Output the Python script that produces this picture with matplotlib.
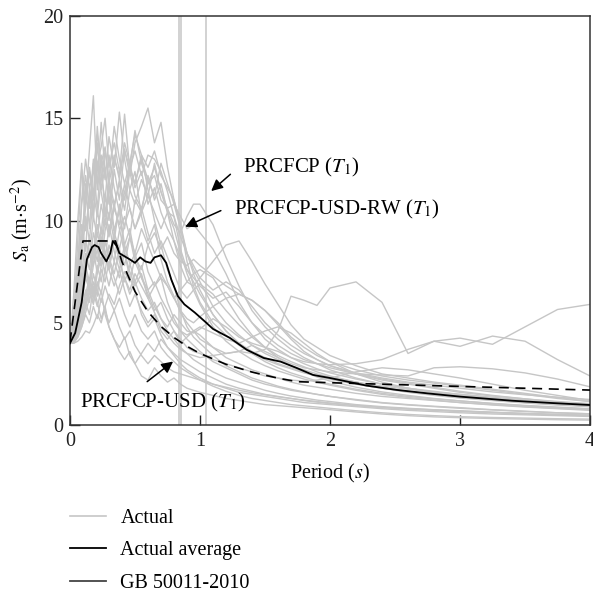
import numpy as np
import matplotlib
matplotlib.use("Agg")
import matplotlib.pyplot as plt
from matplotlib.lines import Line2D

plt.rcParams['font.family'] = ['Liberation Serif', 'DejaVu Serif']
plt.rcParams['mathtext.fontset'] = 'stix'

# period grid shared by the recorded spectra (s)
periods = [0, 0.03, 0.06, 0.09, 0.12, 0.15, 0.18, 0.21, 0.24, 0.27, 0.30, 0.34, 0.38, 0.42,
           0.46, 0.50, 0.55, 0.60, 0.65, 0.70, 0.75, 0.80, 0.85, 0.90, 0.95, 1.0, 1.1, 1.2,
           1.3, 1.4, 1.5, 1.6, 1.7, 1.8, 1.9, 2.0, 2.2, 2.4, 2.6, 2.8, 3.0, 3.25, 3.5, 3.75, 4.0]

# recorded ground motion spectra, Sa (m/s^2)
rec_01 = [4.0, 5.5, 9.0, 12.5, 10.8, 13.5, 16.1, 11.5, 13.0, 10.2, 11.8, 9.5, 10.6, 8.8, 9.6,
          8.2, 8.9, 7.5, 6.8, 7.2, 6.0, 5.2, 4.6, 4.2, 3.9, 3.6, 3.1, 2.8, 2.5, 2.2, 2.0, 1.85,
          1.7, 1.6, 1.5, 1.4, 1.25, 1.1, 1.0, 0.92, 0.85, 0.75, 0.68, 0.6, 0.55]
rec_02 = [4.0, 4.6, 6.2, 8.5, 11.8, 9.6, 12.8, 10.5, 13.2, 12.0, 14.1, 12.6, 15.3, 13.0, 11.5,
          12.4, 10.2, 9.0, 9.8, 8.1, 7.0, 6.3, 5.5, 5.0, 4.6, 4.4, 3.8, 3.3, 3.0, 2.7, 2.5, 2.3,
          2.1, 1.95, 1.85, 1.75, 1.55, 1.4, 1.3, 1.2, 1.1, 1.0, 0.9, 0.82, 0.75]
rec_03 = [4.0, 4.3, 5.0, 6.5, 7.8, 9.0, 8.2, 10.5, 9.4, 11.2, 10.0, 12.5, 11.0, 13.5, 12.2,
          13.8, 14.6, 15.5, 13.8, 14.8, 12.6, 11.0, 9.8, 8.4, 7.4, 6.6, 5.4, 4.6, 4.0, 3.6, 3.3,
          3.0, 2.8, 2.6, 2.4, 2.25, 2.0, 1.8, 1.65, 1.5, 1.4, 1.28, 1.18, 1.1, 1.0]
rec_04 = [4.0, 6.5, 10.0, 12.8, 9.5, 11.2, 10.4, 13.8, 11.5, 12.6, 10.8, 13.0, 12.2, 15.2, 12.5,
          11.8, 13.2, 11.5, 10.0, 8.8, 7.6, 6.8, 5.6, 4.8, 4.3, 4.0, 3.4, 2.9, 2.6, 2.3, 2.1,
          1.9, 1.75, 1.62, 1.5, 1.4, 1.22, 1.08, 0.98, 0.9, 0.82, 0.74, 0.66, 0.6, 0.55]
rec_05 = [4.0, 4.2, 4.8, 6.0, 7.5, 6.8, 8.2, 9.0, 7.8, 9.5, 10.4, 9.0, 10.8, 9.6, 11.5, 10.8,
          12.0, 11.2, 12.8, 11.4, 10.6, 9.8, 9.4, 10.2, 10.8, 10.8, 9.8, 8.2, 6.8, 5.6, 4.8,
          4.2, 3.7, 3.3, 3.0, 2.7, 2.3, 2.0, 1.8, 1.6, 1.45, 1.3, 1.15, 1.05, 0.95]
rec_06 = [4.0, 4.1, 4.5, 5.2, 6.0, 6.8, 6.2, 7.4, 8.2, 7.5, 8.8, 8.0, 9.5, 10.2, 9.2, 11.0,
          10.4, 12.2, 11.0, 11.8, 10.4, 9.0, 7.8, 7.0, 6.8, 7.2, 8.0, 8.8, 9.0, 8.0, 6.9, 5.9,
          4.9, 4.2, 3.8, 3.4, 2.9, 2.5, 2.3, 2.1, 1.95, 1.75, 1.55, 1.35, 1.15]
rec_07 = [4.0, 4.1, 4.4, 5.0, 5.8, 6.5, 5.9, 7.0, 6.4, 7.6, 6.8, 8.0, 7.2, 8.4, 7.5, 6.8, 7.4,
          6.2, 5.5, 4.8, 4.4, 4.0, 3.7, 3.5, 3.4, 3.3, 3.4, 3.5, 3.6, 3.5, 3.7, 4.6, 6.3, 6.1,
          5.85, 6.7, 7.0, 6.0, 3.5, 4.1, 4.25, 3.95, 4.8, 5.65, 5.9]
rec_08 = [4.0, 4.2, 5.0, 6.2, 7.5, 6.8, 8.6, 7.4, 9.2, 8.0, 9.8, 8.5, 7.6, 8.8, 7.9, 7.0, 7.8,
          6.6, 5.8, 5.2, 4.8, 5.4, 5.0, 4.6, 4.5, 4.7, 5.2, 4.8, 4.3, 4.0, 3.8, 3.6, 3.3, 3.1,
          3.0, 2.95, 3.0, 3.2, 3.7, 4.1, 3.85, 4.35, 4.1, 3.2, 2.4]
rec_09 = [4.0, 4.0, 4.3, 4.8, 5.5, 6.2, 7.0, 6.3, 7.8, 8.5, 7.6, 9.0, 8.2, 7.0, 7.8, 8.4, 7.2,
          6.4, 5.6, 6.0, 5.2, 4.6, 4.0, 4.3, 4.6, 4.2, 3.8, 3.5, 3.6, 3.9, 3.6, 3.3, 3.0, 2.8,
          2.7, 2.6, 2.5, 2.45, 2.4, 2.8, 2.85, 2.75, 2.55, 2.25, 1.87]
rec_10 = [4.0, 4.1, 4.4, 5.2, 6.0, 5.4, 6.8, 6.0, 5.2, 5.8, 4.8, 4.2, 3.8, 4.3, 3.4, 3.0, 2.4,
          2.2, 2.8, 2.4, 2.1, 2.3, 2.0, 1.8, 1.7, 1.6, 1.45, 1.3, 1.2, 1.1, 1.0, 0.95, 0.9,
          0.85, 0.8, 0.75, 0.64, 0.54, 0.46, 0.4, 0.36, 0.32, 0.29, 0.26, 0.24]
rec_11 = [4.0, 4.1, 4.6, 5.5, 6.4, 7.2, 6.5, 5.8, 6.6, 5.4, 4.8, 4.2, 3.6, 3.2, 3.6, 3.0, 3.5,
          4.0, 3.6, 4.2, 3.8, 3.4, 3.0, 2.7, 2.5, 2.3, 2.0, 1.8, 1.6, 1.5, 1.4, 1.3, 1.2, 1.1,
          1.05, 1.0, 0.9, 0.8, 0.72, 0.66, 0.6, 0.54, 0.5, 0.46, 0.42]
rec_12 = [4.0, 4.8, 7.2, 9.8, 8.5, 11.6, 10.0, 12.8, 11.4, 10.2, 12.0, 10.8, 11.8, 10.5, 12.4,
          11.2, 10.6, 11.8, 12.2, 11.0, 10.6, 10.8, 9.6, 8.4, 7.6, 7.0, 5.8, 5.0, 4.4, 3.9, 3.5,
          3.2, 2.9, 2.7, 2.5, 2.35, 2.1, 1.9, 1.75, 1.6, 1.5, 1.35, 1.2, 1.05, 0.9]
rec_13 = [4.0, 4.2, 5.0, 6.4, 7.8, 7.0, 8.8, 8.0, 9.6, 8.4, 7.6, 9.2, 8.0, 7.2, 6.4, 7.0, 6.2,
          5.6, 6.0, 5.2, 4.6, 4.2, 3.8, 3.5, 3.2, 3.0, 2.6, 2.3, 2.1, 1.9, 1.7, 1.55, 1.42,
          1.32, 1.22, 1.15, 1.0, 0.9, 0.82, 0.75, 0.7, 0.63, 0.57, 0.52, 0.48]
rec_14 = [4.0, 4.0, 4.1, 4.3, 4.6, 4.5, 4.9, 5.4, 5.0, 5.8, 6.4, 5.9, 6.8, 7.5, 7.0, 8.2, 7.6,
          8.8, 9.4, 8.6, 9.2, 8.4, 8.0, 7.8, 8.1, 7.8, 7.3, 6.8, 6.4, 6.1, 5.6, 5.0, 4.3, 3.8,
          3.4, 3.1, 2.7, 2.4, 2.2, 2.05, 1.9, 1.7, 1.5, 1.3, 1.15]
rec_15 = [4.0, 5.2, 8.0, 10.8, 12.2, 10.6, 13.0, 11.8, 14.8, 12.4, 11.0, 9.4, 10.5, 8.4, 7.2,
          6.6, 5.4, 4.8, 5.2, 4.4, 3.8, 3.5, 3.2, 3.0, 2.8, 2.6, 2.3, 2.0, 1.8, 1.65, 1.5, 1.4,
          1.3, 1.2, 1.12, 1.05, 0.95, 0.86, 0.8, 0.74, 0.68, 0.62, 0.56, 0.52, 0.48]
rec_16 = [4.0, 4.3, 5.4, 7.0, 8.4, 7.6, 9.4, 8.6, 7.8, 9.0, 8.2, 7.4, 8.6, 7.8, 9.2, 8.4, 9.6,
          8.8, 8.0, 7.2, 6.8, 6.2, 5.6, 5.2, 5.0, 5.3, 5.8, 6.2, 6.4, 6.1, 5.6, 4.9, 4.2, 3.6,
          3.2, 2.9, 2.5, 2.2, 2.0, 1.8, 1.6, 1.42, 1.28, 1.15, 1.05]
rec_17 = [4.0, 4.2, 4.7, 5.6, 6.6, 6.0, 7.4, 6.6, 6.0, 6.8, 6.2, 5.6, 6.2, 5.4, 4.8, 5.4, 4.6,
          4.2, 4.6, 3.8, 3.4, 3.1, 2.8, 2.6, 2.4, 2.2, 1.9, 1.65, 1.45, 1.3, 1.2, 1.1, 1.0,
          0.94, 0.88, 0.82, 0.7, 0.6, 0.52, 0.46, 0.41, 0.37, 0.34, 0.31, 0.29]
rec_18 = [4.0, 4.4, 5.8, 7.4, 9.0, 8.2, 10.2, 9.2, 10.8, 9.8, 11.6, 10.6, 12.0, 11.0, 12.6,
          13.4, 12.2, 13.2, 13.0, 12.4, 11.4, 10.2, 8.6, 7.6, 7.2, 6.8, 6.2, 6.5, 5.8, 5.0, 4.4,
          3.9, 3.5, 3.2, 3.0, 2.8, 2.5, 2.25, 2.05, 1.85, 1.65, 1.45, 1.28, 1.12, 1.0]
rec_19 = [4.0, 4.1, 4.5, 5.3, 6.2, 7.0, 6.4, 7.8, 7.0, 8.4, 7.6, 6.8, 7.6, 6.6, 5.8, 6.4, 5.6,
          5.0, 5.4, 4.6, 4.2, 4.6, 4.2, 3.8, 3.6, 3.5, 3.2, 3.0, 2.8, 2.6, 2.4, 2.3, 2.2, 2.15,
          2.2, 2.3, 2.6, 2.8, 2.7, 2.5, 2.3, 2.0, 1.7, 1.45, 1.2]
rec_20 = [4.0, 4.3, 5.2, 6.8, 8.0, 9.2, 8.2, 9.8, 8.8, 10.6, 9.4, 10.8, 9.6, 8.4, 9.2, 8.0, 7.2,
          6.6, 7.0, 6.2, 5.6, 5.0, 4.6, 4.4, 4.6, 4.8, 4.5, 4.2, 4.0, 4.3, 4.6, 4.8, 4.5, 4.0,
          3.5, 3.1, 2.5, 2.1, 1.8, 1.6, 1.45, 1.3, 1.18, 1.08, 1.0]
rec_21 = [4.0, 4.5, 6.0, 8.0, 10.2, 9.0, 11.4, 10.2, 12.0, 13.4, 11.8, 13.2, 12.0, 13.8, 12.8,
          14.2, 13.2, 12.6, 13.4, 12.2, 11.6, 11.0, 9.8, 8.0, 6.8, 6.0, 5.0, 4.4, 3.9, 3.5, 3.2,
          2.95, 2.75, 2.55, 2.4, 2.25, 2.0, 1.8, 1.6, 1.45, 1.32, 1.2, 1.08, 0.98, 0.9]
rec_22 = [4.0, 4.1, 4.3, 4.8, 5.4, 5.0, 5.8, 5.2, 6.2, 5.6, 5.0, 5.6, 4.8, 4.2, 4.6, 3.9, 3.4,
          3.0, 3.4, 3.1, 2.8, 2.6, 2.5, 2.4, 2.3, 2.2, 2.0, 1.85, 1.7, 1.58, 1.48, 1.38, 1.3,
          1.22, 1.15, 1.08, 0.96, 0.86, 0.78, 0.72, 0.66, 0.6, 0.55, 0.5, 0.46]
rec_23 = [4.0, 5.0, 7.5, 11.0, 13.0, 11.6, 12.4, 14.2, 12.8, 13.6, 12.0, 14.6, 13.0, 11.8, 12.8,
          11.6, 12.4, 10.8, 11.6, 10.4, 9.6, 9.0, 8.2, 7.6, 7.0, 6.4, 5.4, 4.6, 4.0, 3.5, 3.1,
          2.8, 2.55, 2.35, 2.15, 2.0, 1.75, 1.55, 1.4, 1.28, 1.18, 1.06, 0.96, 0.88, 0.8]
rec_24 = [4.0, 4.8, 6.8, 9.2, 11.0, 12.6, 11.2, 14.6, 12.2, 11.0, 13.2, 11.6, 10.4, 11.8, 10.6,
          9.6, 10.6, 9.4, 8.4, 9.0, 8.2, 7.4, 6.6, 6.2, 6.6, 6.9, 6.4, 5.6, 4.9, 4.3, 3.8, 3.4,
          3.1, 2.85, 2.6, 2.4, 2.1, 1.85, 1.65, 1.5, 1.36, 1.22, 1.1, 1.0, 0.92]
rec_25 = [4.0, 4.3, 5.0, 6.2, 7.4, 8.6, 7.8, 9.4, 8.6, 10.0, 9.2, 10.6, 9.8, 11.4, 12.6, 11.8,
          13.0, 12.0, 11.2, 12.8, 11.8, 10.8, 10.2, 9.6, 9.8, 9.4, 8.6, 7.4, 6.0, 5.0, 4.2, 3.7,
          3.3, 3.0, 2.75, 2.55, 2.25, 2.0, 1.8, 1.65, 1.5, 1.35, 1.22, 1.1, 1.0]
rec_26 = [4.0, 4.1, 4.4, 5.0, 5.8, 6.6, 6.0, 6.8, 7.6, 7.0, 8.0, 7.2, 6.4, 7.2, 6.6, 7.4, 6.8,
          6.2, 6.8, 7.4, 6.8, 6.2, 6.6, 7.0, 7.4, 7.6, 7.2, 6.2, 5.2, 4.4, 3.8, 3.3, 2.9, 2.6,
          2.35, 2.15, 1.85, 1.62, 1.45, 1.3, 1.18, 1.05, 0.94, 0.85, 0.78]
rec_27 = [4.0, 4.6, 6.6, 9.0, 10.6, 12.4, 11.0, 12.8, 13.6, 15.0, 12.6, 13.8, 12.4, 13.4, 12.6,
          14.4, 12.8, 11.8, 12.6, 11.4, 10.4, 9.6, 8.4, 7.4, 6.6, 5.9, 4.8, 4.1, 3.6, 3.2, 2.9,
          2.65, 2.45, 2.25, 2.1, 1.95, 1.7, 1.5, 1.35, 1.22, 1.1, 0.98, 0.88, 0.8, 0.72]
rec_28 = [4.0, 4.2, 4.9, 6.0, 7.2, 6.6, 7.8, 8.6, 7.8, 9.0, 8.2, 9.4, 8.6, 9.8, 10.6, 9.6, 10.4,
          11.2, 10.4, 9.6, 10.4, 10.2, 9.2, 8.4, 7.8, 7.2, 6.6, 7.0, 6.6, 5.8, 5.0, 4.4, 3.9,
          3.5, 3.2, 2.9, 2.55, 2.3, 2.1, 1.95, 1.8, 1.62, 1.48, 1.36, 1.25]

actual_records = [rec_01, rec_02, rec_03, rec_04, rec_05, rec_06, rec_07, rec_08, rec_09,
                  rec_10, rec_11, rec_12, rec_13, rec_14, rec_15, rec_16, rec_17, rec_18,
                  rec_19, rec_20, rec_21, rec_22, rec_23, rec_24, rec_25, rec_26, rec_27,
                  rec_28]

# mean spectrum of the records
avg_T = [0, 0.04, 0.09, 0.13, 0.17, 0.19, 0.22, 0.24, 0.28, 0.31, 0.33, 0.36, 0.38, 0.42,
         0.46, 0.50, 0.54, 0.58, 0.62, 0.65, 0.70, 0.74, 0.78, 0.83, 0.88, 0.96, 1.04, 1.10,
         1.23, 1.36, 1.49, 1.62, 1.74, 1.87, 2.0, 2.13, 2.28, 2.51, 2.75, 3.0, 3.4, 3.7, 4.0]
avg_Sa = [4.0, 4.5, 6.0, 8.1, 8.7, 8.8, 8.7, 8.4, 8.0, 8.4, 9.0, 8.75, 8.4, 8.25, 8.1, 7.93,
          8.2, 8.0, 7.93, 8.2, 8.3, 7.93, 7.1, 6.3, 5.9, 5.5, 5.05, 4.7, 4.26, 3.68, 3.28, 3.1,
          2.8, 2.45, 2.3, 2.13, 1.93, 1.72, 1.55, 1.39, 1.19, 1.08, 0.98]

# GB 50011-2010 design spectrum
gb_T = [0, 0.1, 0.35, 0.4, 0.5, 0.6, 0.7, 0.8, 0.9, 1.0, 1.2, 1.4, 1.6, 1.75, 2.0, 2.5,
        3.0, 3.5, 4.0]
gb_Sa = [4.05, 9.0, 9.0, 7.98, 6.53, 5.54, 4.82, 4.28, 3.85, 3.5, 2.97, 2.59, 2.29, 2.12,
         2.07, 1.98, 1.89, 1.8, 1.71]

# fundamental periods of the structures (s)
t1_usd = 0.835
t1_usd_rw = 0.852
t1_prcfcp = 1.05

fig = plt.figure(figsize=(5.93, 5.92), dpi=100)
ax = fig.add_axes([0.118, 0.282, 0.877, 0.691])

gray = '#c6c6c6'
for rec in actual_records:
    ax.plot(periods, rec, color=gray, lw=1.0, zorder=2)

for t in (t1_usd, t1_usd_rw, t1_prcfcp):
    ax.axvline(t, color=gray, lw=1.1, zorder=1)

ax.plot(avg_T, avg_Sa, color='black', lw=1.3, zorder=4)
ax.plot(gb_T, gb_Sa, color='black', lw=1.2, dashes=(6, 4), zorder=4)

# annotations
fs = 14.5
akw = dict(arrowstyle='-|>', color='black', lw=1.1, mutation_scale=17)
ax.annotate('', xy=(1.07, 11.35), xytext=(1.25, 12.35), arrowprops=akw)
ax.text(1.33, 12.6, 'PRCFCP ($T_1$)', fontsize=15, va='center', ha='left')
ax.annotate('', xy=(0.867, 9.64), xytext=(1.18, 10.54), arrowprops=akw)
ax.text(1.26, 10.54, 'PRCFCP-USD-RW ($T_1$)', fontsize=15, va='center', ha='left')
ax.annotate('', xy=(0.81, 3.19), xytext=(0.577, 2.04), arrowprops=akw)
ax.text(0.077, 1.08, 'PRCFCP-USD ($T_1$)', fontsize=15, va='center', ha='left')

ax.set_xlim(0, 4)
ax.set_ylim(0, 20)
ax.set_xticks([0, 1, 2, 3, 4])
ax.set_yticks([0, 5, 10, 15, 20])
ax.tick_params(direction='in', length=7, width=1.0, labelsize=fs, colors='#222222',
               top=False, right=False, pad=5)
for sp in ax.spines.values():
    sp.set_linewidth(1.1)
    sp.set_color('#333333')

ax.set_xlabel('Period ($s$)', fontsize=fs, labelpad=8)
ax.set_ylabel('$S_\\mathrm{a}$ (m$\\cdot$s$^{-2}$)', fontsize=fs, labelpad=6)

handles = [Line2D([], [], color=gray, lw=1.2),
           Line2D([], [], color='black', lw=1.3),
           Line2D([], [], color='#444444', lw=1.3)]
labels = ['Actual', 'Actual average', 'GB 50011-2010']
fig.legend(handles, labels, loc='upper left', bbox_to_anchor=(0.118, 0.14),
           frameon=False, fontsize=fs, handlelength=1.8, handletextpad=0.7,
           labelspacing=0.65, borderpad=0, borderaxespad=0)

fig.savefig('out.png', dpi=100)
